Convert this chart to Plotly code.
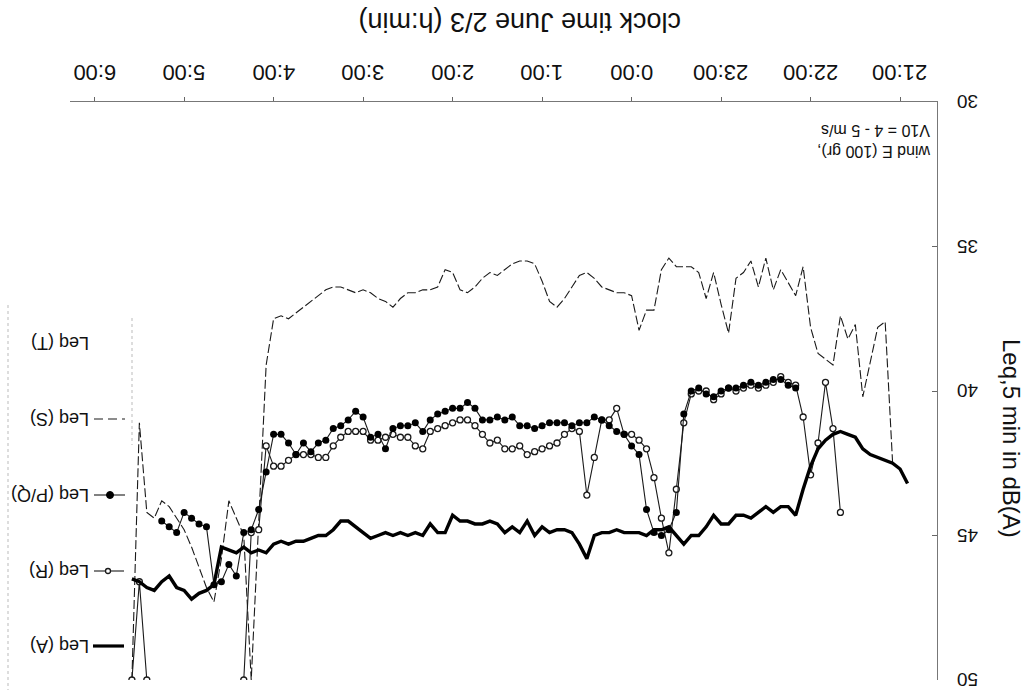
import pandas as pd
import plotly.graph_objects as go

# 5-minute Leq samples, night of June 2/3
times = pd.date_range("1997-06-02 20:50", periods=106, freq="5min")

tick_times = pd.date_range("1997-06-02 21:00", periods=10, freq="60min")
tick_labels = ["21:00", "22:00", "23:00", "0:00", "1:00", "2:00", "3:00", "4:00", "5:00", "6:00"]
y_ticks = [30, 35, 40, 45, 50]

N = None
leq_a = [N, 43.2, 42.7, 42.5, 42.4, 42.3, 42.2, 42.0, 41.6, 41.5,
         41.4, 41.5, 41.7, 42.0, 42.6, 43.4, 44.3, 44.0, 44.0, 44.2,
         44.0, 44.2, 44.4, 44.3, 44.3, 44.6, 44.6, 44.3, 44.7, 45.0,
         45.0, 45.3, 45.0, 44.7, 44.8, 44.8, 45.0, 44.9, 44.9, 44.9,
         44.8, 44.9, 44.9, 45.0, 45.8, 45.3, 44.9, 44.8, 44.8, 44.9,
         44.7, 45.0, 44.5, 44.9, 44.7, 44.9, 44.6, 44.5, 44.6, 44.6,
         44.5, 44.5, 44.3, 44.9, 44.9, 44.6, 45.0, 44.9, 45.0, 44.9,
         45.0, 44.9, 45.0, 45.1, 44.9, 44.7, 44.5, 44.5, 44.8, 45.0,
         45.0, 45.1, 45.2, 45.2, 45.3, 45.2, 45.3, 45.6, 45.5, 45.6,
         45.4, 45.6, 45.5, 45.4, 46.7, 46.9, 47.0, 47.2, 46.9, 46.8,
         46.4, 46.6, 46.9, 46.8, 46.6, 46.5]

leq_r = [N, N, N, N, N, N, N, N, N, N,
         44.2, 41.3, 39.7, 41.8, 42.9, 40.9, 39.8, 39.7, 39.5, 39.7,
         39.8, 39.9, 39.8, 39.9, 40.0, 39.9, 40.1, 40.3, 40.0, 40.0,
         40.1, 41.1, 43.4, 45.6, 44.4, 43.0, 42.0, 41.7, 41.5, 41.5,
         40.6, 41.0, 41.0, 42.3, 43.6, 41.4, 41.3, 41.5, 41.8, 41.9,
         42.0, 42.1, 42.2, 41.9, 42.0, 42.0, 41.7, 41.8, 41.5, 41.2,
         41.0, 41.0, 41.1, 41.2, 41.3, 41.4, 42.0, 41.9, 41.6, 41.6,
         41.5, 41.6, 41.7, 41.7, 41.4, 41.4, 41.4, 41.6, 41.9, 42.3,
         42.3, 42.2, 42.2, 42.2, 42.4, 42.6, 42.6, 41.9, 44.8, 44.9,
         50.0, N, N, N, N, N, N, N, N, N,
         N, N, N, 50.0, 46.6, 50.0]

leq_pq = [N, N, N, N, N, N, N, N, N, N,
          N, N, N, N, N, N, 39.9, 39.8, 39.6, 39.6,
          39.7, 39.8, 39.7, 39.8, 39.9, 39.9, 40.0, 40.2, 40.1, 39.9,
          40.0, 40.8, 44.2, 44.8, 45.0, 44.9, 44.1, 42.2, 41.9, 41.5,
          41.4, 41.2, 41.0, 40.9, 41.1, 41.1, 41.2, 41.1, 41.1, 41.1,
          41.2, 41.3, 41.2, 41.2, 40.9, 41.0, 40.9, 41.0, 41.0, 40.6,
          40.4, 40.6, 40.6, 40.7, 40.8, 41.0, 41.4, 41.1, 41.2, 41.2,
          41.3, 42.0, 41.5, 41.6, 40.9, 40.7, 41.0, 41.2, 41.3, 41.7,
          41.8, 42.1, 41.8, 42.2, 41.8, 41.5, 41.5, 42.8, 44.1, 44.8,
          44.9, 46.4, 46.0, 46.6, 46.7, 44.7, 44.6, 44.4, 44.2, 44.9,
          44.7, 44.5, N, N, N, N]

leq_s = [N, N, N, 42.5, 37.6, 37.8, N, 40.2, 37.7, 38.2,
         37.4, 39.1, N, 38.7, 37.8, 35.7, 36.7, N, 35.8, 36.5,
         35.4, 36.4, 35.5, 35.9, 36.1, 38.0, 37.0, 35.9, 36.8, 35.9,
         35.7, 35.7, 35.7, 35.4, 35.8, 37.2, 37.2, 37.9, 36.7, 36.6,
         36.6, N, 36.4, 36.1, 35.9, 36.0, 36.4, 36.8, 37.1, 36.9,
         36.2, 35.6, 35.5, 35.5, 35.6, 35.8, 36.0, 35.9, 36.1, 36.4,
         36.6, 36.5, 35.9, 35.8, 36.4, 36.5, 36.5, 36.6, 36.6, 36.8,
         37.1, 36.9, 36.8, 36.6, 36.5, 36.6, 36.5, 36.4, 36.4, 36.5,
         36.7, 36.9, 37.1, 37.3, 37.5, 37.4, 37.5, 39.1, N, 50.0,
         45.0, 44.4, 43.8, 45.8, 47.3, 46.8, 46.1, 45.4, 44.8, 44.4,
         44.0, 43.8, 44.4, 44.2, 41.1, 50.0]

INK = "#1a1a1a"
FONT = "Arial, Liberation Sans, sans-serif"

fig = go.Figure()
fig.add_trace(go.Scatter(x=times, y=leq_s, mode="lines", connectgaps=True,
                         line=dict(color=INK, width=1.1, dash="9px,3px")))
fig.add_trace(go.Scatter(x=times, y=leq_r, mode="lines+markers",
                         line=dict(color=INK, width=1.1),
                         marker=dict(symbol="circle", size=6, color="white",
                                     line=dict(color=INK, width=1.3))))
fig.add_trace(go.Scatter(x=times, y=leq_pq, mode="lines+markers",
                         line=dict(color=INK, width=1.1),
                         marker=dict(symbol="circle", size=7, color="black")))
fig.add_trace(go.Scatter(x=times, y=leq_a, mode="lines",
                         line=dict(color="black", width=3.4)))

fig.update_layout(
    width=1031, height=698,
    margin=dict(l=70, r=94, t=102, b=18),
    paper_bgcolor="white", plot_bgcolor="white",
    showlegend=False,
    font=dict(family=FONT, color="#111"),
    xaxis=dict(
        type="date", side="top",
        range=["1997-06-03 06:16:30", "1997-06-02 20:35:15"],
        tickvals=list(tick_times), showticklabels=False,
        ticks="outside", ticklen=4, tickcolor="#666",
        showline=True, linecolor="#777", linewidth=1,
        showgrid=False, zeroline=False,
    ),
    yaxis=dict(
        side="right", range=[50, 30],
        tickvals=y_ticks, showticklabels=False,
        ticks="inside", ticklen=5, tickcolor="#666",
        showline=True, linecolor="#777", linewidth=1,
        showgrid=False, zeroline=False,
    ),
)


def px_x(p):
    return (p - 70) / 867.0


def px_y(p):
    return (680 - p) / 578.0


annotations = []
# upside-down tick labels
for t, lab in zip(tick_times, tick_labels):
    annotations.append(dict(text=lab, x=t, xref="x", y=px_y(73), yref="paper",
                            xanchor="center", yanchor="middle",
                            textangle=180, font=dict(size=22)))
for v in y_ticks:
    annotations.append(dict(text=str(v), x=px_x(968), xref="paper", y=v, yref="y",
                            xanchor="center", yanchor="middle",
                            textangle=180, font=dict(size=19)))

annotations += [
    dict(text="clock time June 2/3 (h:min)", x=px_x(520), y=px_y(22),
         xref="paper", yref="paper", xanchor="center", yanchor="middle",
         textangle=180, font=dict(size=27)),
    dict(text="Leq,5 min in dB(A)", x=px_x(1012), y=px_y(438),
         xref="paper", yref="paper", xanchor="center", yanchor="middle",
         textangle=90, font=dict(size=24)),
    dict(text="wind E (100 gr),<br>V10 = 4 - 5 m/s", x=px_x(933), y=px_y(120),
         xref="paper", yref="paper", xanchor="right", yanchor="top", align="left",
         textangle=180, font=dict(size=16)),
]

legend_rows = [("Leq (T)", 343), ("Leq (S)", 419), ("Leq (P/Q)", 495),
               ("Leq (R)", 571), ("Leq (A)", 646)]
for label, row in legend_rows:
    annotations.append(dict(text=label, x=px_x(91), y=px_y(row),
                            xref="paper", yref="paper",
                            xanchor="right", yanchor="middle",
                            textangle=180, font=dict(size=18)))
for a in annotations:
    a.update(showarrow=False)
fig.update_layout(annotations=annotations)

shapes = [
    # key samples
    dict(type="line", x0=px_x(94), x1=px_x(125), y0=px_y(419), y1=px_y(419),
         line=dict(color=INK, width=1.1, dash="9px,5px")),
    dict(type="line", x0=px_x(94), x1=px_x(125), y0=px_y(495), y1=px_y(495),
         line=dict(color=INK, width=1.1)),
    dict(type="line", x0=px_x(94), x1=px_x(124), y0=px_y(571), y1=px_y(571),
         line=dict(color=INK, width=1.1)),
    dict(type="line", x0=px_x(93), x1=px_x(124), y0=px_y(646), y1=px_y(646),
         line=dict(color="black", width=3.2)),
    dict(type="circle", xsizemode="pixel", ysizemode="pixel",
         xanchor=px_x(110), yanchor=px_y(495), x0=-3.5, x1=3.5, y0=-3.5, y1=3.5,
         fillcolor="black", line=dict(color="black", width=1)),
    dict(type="circle", xsizemode="pixel", ysizemode="pixel",
         xanchor=px_x(108), yanchor=px_y(571), x0=-2.5, x1=2.5, y0=-2.5, y1=2.5,
         fillcolor="white", line=dict(color=INK, width=1.3)),
    # faint key frame
    dict(type="line", x0=px_x(8), x1=px_x(8), y0=px_y(305), y1=px_y(690),
         line=dict(color="#bbb", width=1, dash="dot")),
    dict(type="line", x0=px_x(132), x1=px_x(132), y0=px_y(318), y1=px_y(445),
         line=dict(color="#bbb", width=1, dash="dot")),
]
for s in shapes:
    s.update(xref="paper", yref="paper")
fig.update_layout(shapes=shapes)

fig.write_html("out.html")
